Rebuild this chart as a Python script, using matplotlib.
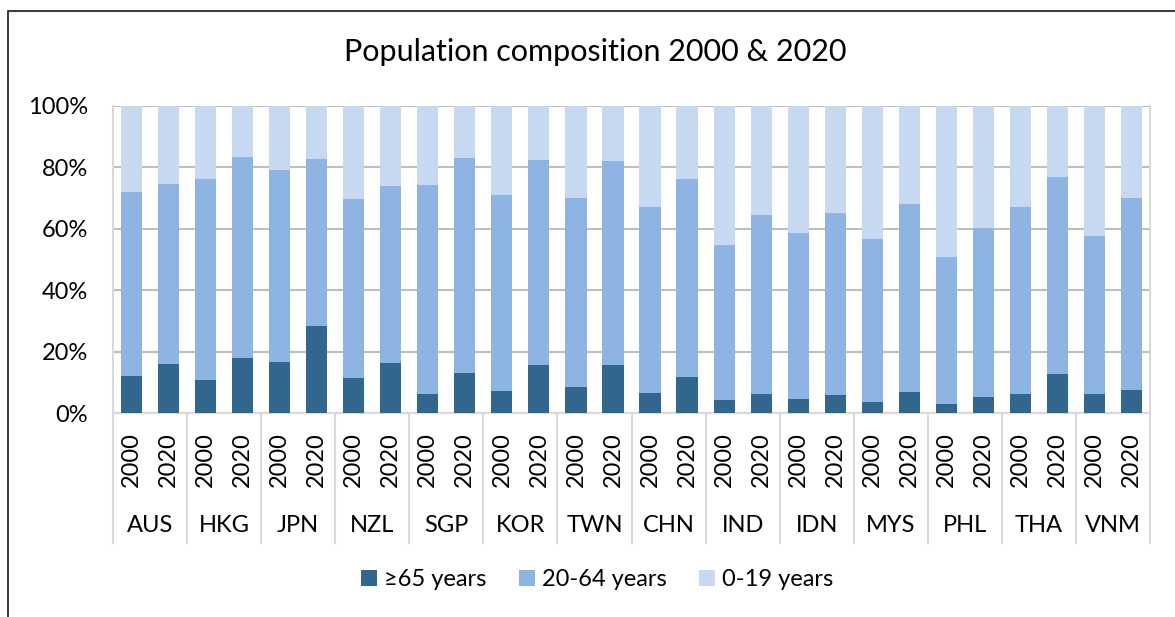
import numpy as np
import matplotlib
matplotlib.use("Agg")
from matplotlib import pyplot as plt
from matplotlib.lines import Line2D

# 数据
countries = ["AUS", "HKG", "JPN", "NZL", "SGP", "KOR", "TWN",
             "CHN", "IND", "IDN", "MYS", "PHL", "THA", "VNM"]
years = ["2000", "2020"]

# 每个国家两年的数值 (2000, 2020), 单位 %
age65 = [12.1, 16.0, 10.8, 17.9, 16.7, 28.2, 11.5, 16.2, 6.2, 13.0,
         7.1, 15.5, 8.5, 15.7, 6.5, 11.7, 4.2, 6.3, 4.6, 6.0,
         3.6, 7.0, 2.9, 5.2, 6.2, 12.7, 6.2, 7.6]
age20_64 = [60.0, 58.7, 65.5, 65.6, 62.3, 54.5, 58.3, 57.7, 68.1, 69.9,
            63.9, 66.9, 61.6, 66.3, 60.7, 64.6, 50.6, 58.2, 54.1, 59.1,
            53.1, 61.2, 48.0, 55.1, 61.0, 64.3, 51.5, 62.3]
age0_19 = [100 - a - b for a, b in zip(age65, age20_64)]

plt.rcParams['font.family'] = ['Lato', 'DejaVu Sans']

fig = plt.figure(figsize=(11.75, 6.17), dpi=100)
W, H = 1175, 617
ax = fig.add_axes([113 / W, 1 - 413 / H, (1150 - 113) / W, 307 / H])

x = np.arange(len(age65))
bw = 0.57
c_dark, c_mid, c_light = "#31678C", "#8EB4E3", "#C6D9F1"
ax.bar(x, age65, bw, color=c_dark, label="≥65 years", zorder=3)
ax.bar(x, age20_64, bw, bottom=age65, color=c_mid, label="20-64 years", zorder=3)
ax.bar(x, age0_19, bw, bottom=np.array(age65) + np.array(age20_64),
       color=c_light, label="0-19 years", zorder=3)

ax.set_xlim(-0.5, len(x) - 0.5)
ax.set_ylim(0, 100)
ax.set_yticks(np.arange(0, 101, 20))
ax.set_yticklabels([f"{v}%" for v in range(0, 101, 20)], fontsize=17)
ax.tick_params(axis="y", length=0, pad=18)
ax.set_xticks([])
ax.yaxis.grid(True, color="#BFBFBF", linewidth=1.5, zorder=0)
for s in ["left", "right", "bottom"]:
    ax.spines[s].set_color("#D9D9D9")
    ax.spines[s].set_linewidth(1.5)
ax.spines["top"].set_visible(False)

# 两级 x 轴标签
tr = ax.get_xaxis_transform()
for i in range(len(x)):
    ax.text(x[i], -0.1515, years[i % 2], rotation=90, ha="center", va="center",
            fontsize=17, transform=tr)
for k, c in enumerate(countries):
    ax.text(2 * k + 0.5, -0.368, c, ha="center", va="center", fontsize=17,
            transform=tr)
for k in range(len(countries) + 1):
    ax.plot([2 * k - 0.5, 2 * k - 0.5], [0, -0.423], color="#D9D9D9",
            linewidth=1.5, transform=tr, clip_on=False)

fig.text(595 / W, 1 - 52 / H, "Population composition 2000 & 2020",
         ha="center", va="center", fontsize=22)

fig.legend(loc="center", bbox_to_anchor=(597 / W, 1 - 580 / H), ncol=3,
           frameon=False, fontsize=17, handlelength=0.68, handleheight=0.68,
           handletextpad=0.3, columnspacing=1.36)

# 外框
fig.add_artist(Line2D([8 / W, 8 / W, 1.0], [0.0, 1 - 11 / H, 1 - 11 / H],
                      color="#404040", linewidth=1.5, transform=fig.transFigure))

fig.savefig("out.png", dpi=100)
